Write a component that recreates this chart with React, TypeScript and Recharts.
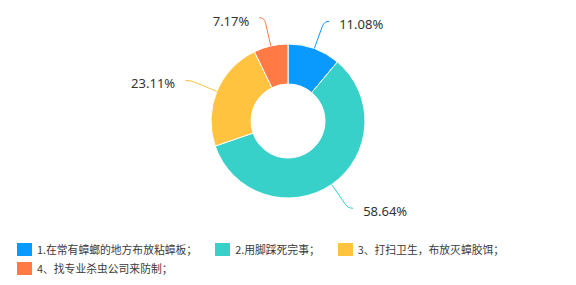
import React from "react";
import { PieChart, Pie, Cell } from "recharts";

if (typeof document !== "undefined") {
  document.body.style.margin = "0";
}

const categories = [
  "1.在常有蟑螂的地方布放粘蟑板；",
  "2.用脚踩死完事；",
  "3、打扫卫生，布放灭蟑胶饵；",
  "4、找专业杀虫公司来防制；",
];
const values = [11.08, 58.64, 23.11, 7.17];
const colors = ["#0A9AFE", "#38D1CA", "#FFC33F", "#FF7A45"];

const data = categories.map((name, i) => ({ name, value: values[i] }));

const RAD = Math.PI / 180;

const renderLabel = (props: any) => {
  const { cx, cy, midAngle, outerRadius, index, value } = props;
  const cos = Math.cos(-midAngle * RAD);
  const sin = Math.sin(-midAngle * RAD);
  const r0 = outerRadius;
  const r1 = outerRadius + 29;
  const x0 = cx + r0 * cos;
  const y0 = cy + r0 * sin;
  const x1 = cx + r1 * cos;
  const y1 = cy + r1 * sin;
  const right = cos >= 0;
  const x2 = x1 + (right ? 5 : -5);
  const y2 = y1;
  const xm = x0 + (x1 - x0) * 0.82;
  const ym = y0 + (y1 - y0) * 0.82;
  const tx = x2 + (right ? 10 : -10);
  return (
    <g key={`lbl-${index}`}>
      <path
        d={`M${x0},${y0} L${xm},${ym} Q${x1},${y1} ${x2},${y2}`}
        stroke={colors[index]}
        fill="none"
        strokeWidth={1}
      />
      <text
        x={tx}
        y={y2 + 3}
        textAnchor={right ? "start" : "end"}
        dominantBaseline="central"
        fontSize={13}
        fill="#333"
        fontFamily="'Noto Sans', 'Noto Sans CJK SC', sans-serif"
      >
        {`${Number(value).toFixed(2)}%`}
      </text>
    </g>
  );
};

export default function App() {
  return (
    <div
      style={{
        position: "relative",
        width: 576,
        height: 285,
        background: "#fff",
        fontFamily: "'Noto Sans CJK SC', 'Noto Sans', sans-serif",
      }}
    >
      <PieChart
        width={576}
        height={285}
        margin={{ top: 0, right: 0, bottom: 0, left: 0 }}
      >
        <Pie
          data={data}
          dataKey="value"
          nameKey="name"
          cx={288}
          cy={121}
          innerRadius={37}
          outerRadius={77}
          startAngle={90}
          endAngle={-270}
          stroke="#fff"
          strokeWidth={1}
          label={renderLabel}
          labelLine={false}
          isAnimationActive={false}
        >
          {data.map((d, i) => (
            <Cell key={d.name} fill={colors[i]} />
          ))}
        </Pie>
      </PieChart>
      <div
        style={{
          position: "absolute",
          left: 17,
          top: 241,
          width: 555,
          display: "flex",
          flexWrap: "wrap",
          rowGap: 3,
          fontSize: 10.8,
          color: "#3a3a3a",
          lineHeight: "16px",
        }}
      >
        {categories.map((c, i) => (
          <div
            key={c}
            style={{ display: "flex", alignItems: "center", marginRight: 18 }}
          >
            <span
              style={{
                display: "inline-block",
                width: 15,
                height: 13,
                background: colors[i],
                marginRight: 5,
              }}
            />
            <span>{c}</span>
          </div>
        ))}
      </div>
    </div>
  );
}
